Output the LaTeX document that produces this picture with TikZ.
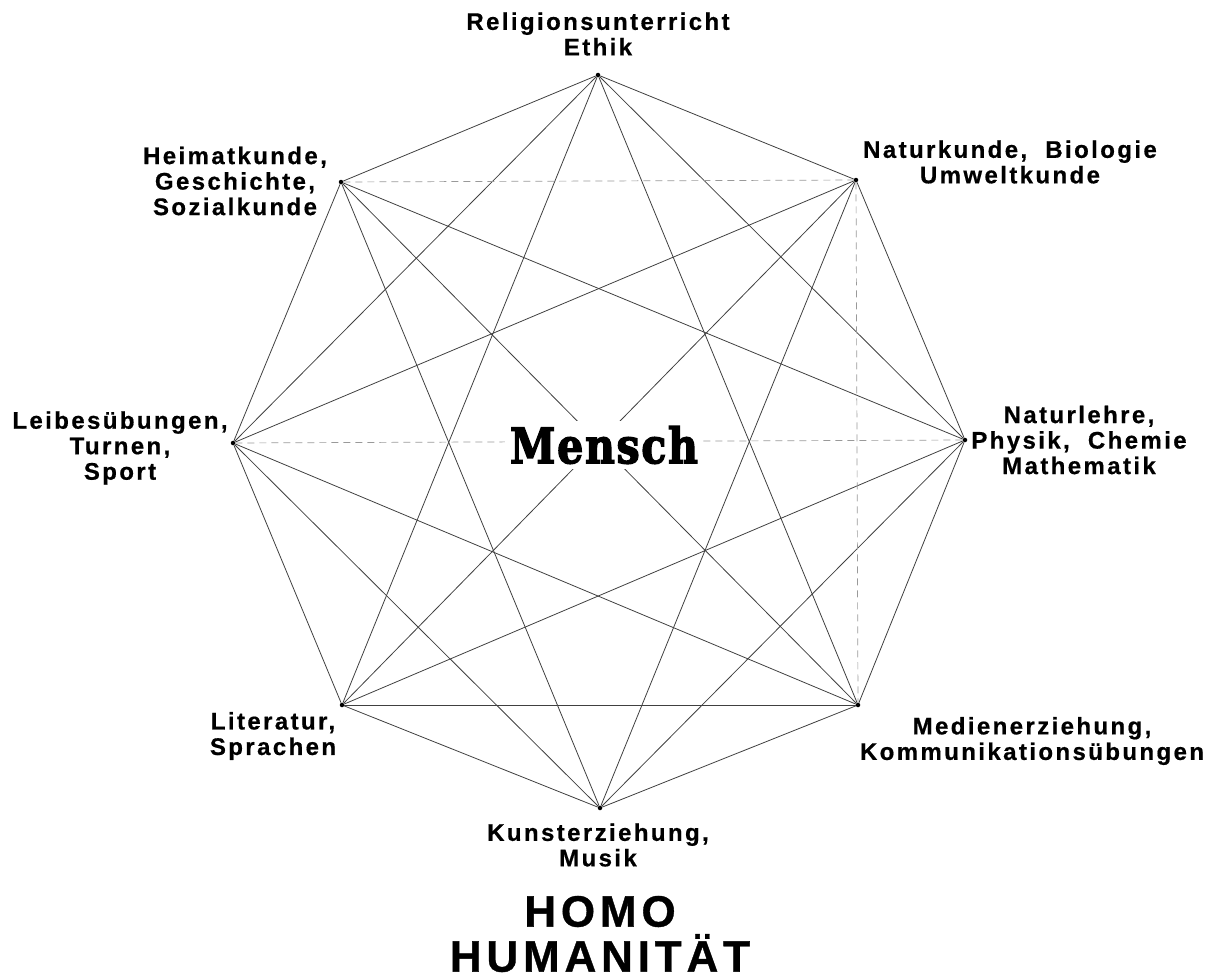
\documentclass[tikz,border=0pt]{standalone}
\usepackage{fontspec}
\usepackage{graphicx}
\setmainfont{Liberation Sans}
\newfontfamily\labfont{Liberation Sans}[LetterSpace=10, FakeBold=0.6]
\newfontfamily\homofont{Liberation Sans}[LetterSpace=11, FakeBold=0.8]
\newfontfamily\menschfont{DejaVu Serif}[LetterSpace=4, FakeBold=3]
\tikzset{
  vert/.style={circle, fill=black, inner sep=0pt, minimum size=4.5pt},
  edge/.style={draw=black!75, line width=0.8pt},
  faint/.style={draw=black!40, line width=0.7pt, dash pattern=on 7pt off 5pt},
  lab/.style={align=center, inner sep=0pt, font=\labfont\bfseries\fontsize{24}{25.5}\selectfont},
  title/.style={align=center, inner sep=0pt, font=\homofont\bfseries\fontsize{44}{45}\selectfont},
  centre/.style={fill=white, inner sep=5pt}
}
\begin{document}
\begin{tikzpicture}[x=1pt, y=-1pt]
\useasboundingbox (0,0) rectangle (1210,979);
% vertices
\node[vert] (T)  at (598,75)  {};
\node[vert] (TR) at (856,180) {};
\node[vert] (R)  at (965,440) {};
\node[vert] (BR) at (858,705) {};
\node[vert] (B)  at (600,808) {};
\node[vert] (BL) at (342,705) {};
\node[vert] (L)  at (233,443) {};
\node[vert] (TL) at (341,182) {};
% edges
\foreach \a/\b in {T/TR, T/R, T/BR, T/BL, T/L, T/TL,
                   TR/R, TR/B, TR/BL, TR/L,
                   R/BR, R/B, R/BL, R/TL,
                   BR/B, BR/BL, BR/L, BR/TL,
                   B/BL, B/L, B/TL,
                   BL/L, L/TL}
  \draw[edge] (\a) -- (\b);
\foreach \a/\b in {TL/TR, TR/BR, L/R}
  \draw[faint] (\a) -- (\b);
% labels
\node[lab] (lT)  at (598,34)   {Religionsunterricht\\Ethik};
\node[lab] (lTL) at (235,181)  {Heimatkunde,\\Geschichte,\\Sozialkunde};
\node[lab] (lTR) at (1010,162) {Naturkunde,\ \ Biologie\\Umweltkunde};
\node[lab] (lL)  at (120,448)  {Leibesübungen,\\Turnen,\\Sport};
\node[lab] (lR)  at (1079,440) {Naturlehre,\\Physik,\ \ Chemie\\Mathematik};
\node[lab] (lBL) at (273,736)  {Literatur,\\Sprachen};
\node[lab] (lBR) at (1032,741) {Medienerziehung,\\Kommunikationsübungen};
\node[lab] (lB)  at (598,845)  {Kunsterziehung,\\Musik};
\node[title] (hom) at (600,934) {HOMO\\HUMANITÄT};
% centre
\node[centre] (m) at (604,445) {\resizebox{188pt}{37pt}{\menschfont\bfseries Mensch}};
\end{tikzpicture}
\end{document}
